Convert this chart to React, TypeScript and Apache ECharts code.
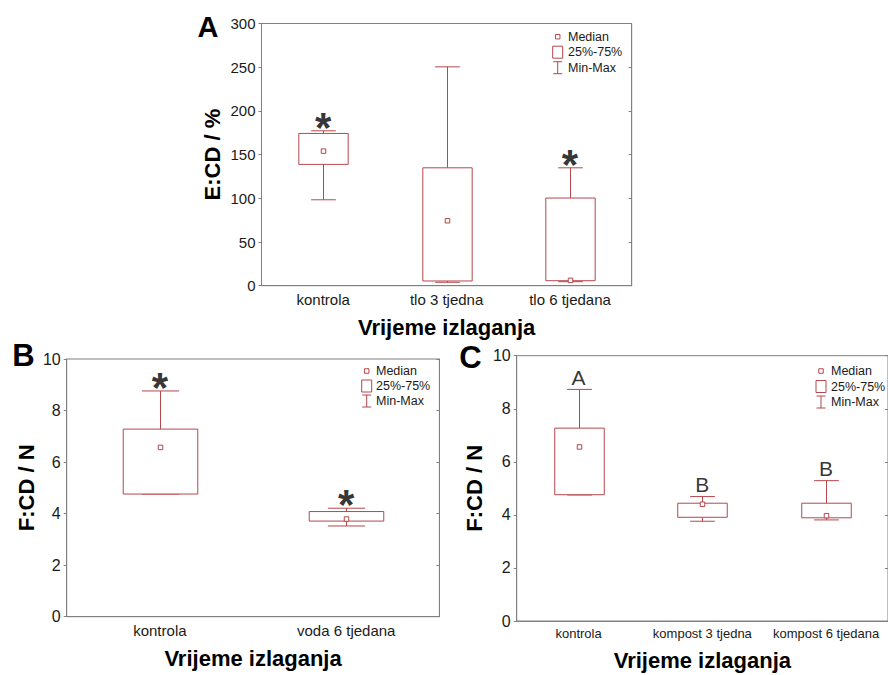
import React, { useEffect, useRef } from "react";
import * as echarts from "echarts";

// ---------- Panel A ----------
const catsA = ["kontrola", "tlo 3 tjedna", "tlo 6 tjedana"];
const minA = [98.3, 3.9, 4.6];
const q1A = [138.8, 5.4, 5.7];
const medA = [154, 74.3, 6.1];
const q3A = [174.2, 134.9, 100.3];
const maxA = [177.2, 250.4, 134.9];
const marksA = ["*", "", "*"];
const yTicksA = [0, 50, 100, 150, 200, 250, 300];

// ---------- Panel B ----------
const catsB = ["kontrola", "voda 6 tjedana"];
const minB = [4.76, 3.52];
const q1B = [4.76, 3.71];
const medB = [6.57, 3.79];
const q3B = [7.28, 4.08];
const maxB = [8.76, 4.21];
const marksB = ["*", "*"];
const yTicksBC = [0, 2, 4, 6, 8, 10];

// ---------- Panel C ----------
const catsC = ["kontrola", "kompost 3 tjedna", "kompost 6 tjedana"];
const minC = [4.75, 3.76, 3.81];
const q1C = [4.76, 3.91, 3.89];
const medC = [6.56, 4.4, 3.97];
const q3C = [7.27, 4.44, 4.44];
const maxC = [8.73, 4.69, 5.29];
const lettersC = ["A", "B", "B"];

const legendLabels = ["Median", "25%-75%", "Min-Max"];
const xTitle = "Vrijeme izlaganja";

const RED = "#b5474d";
const FRAME = "#808080";
const FONT = "'Liberation Sans', Arial, sans-serif";
const TXT = "#1a1a1a";

function renderBox(_params: any, api: any) {
  const i = api.value(0);
  const lo = api.coord([i, api.value(1)]);
  const q1 = api.coord([i, api.value(2)]);
  const med = api.coord([i, api.value(3)]);
  const q3 = api.coord([i, api.value(4)]);
  const hi = api.coord([i, api.value(5)]);
  const band = api.size([1, 0])[0];
  const w = band * 0.4;
  const cx = Math.round(lo[0]) + 0.5;
  const cap = w / 4;
  const ls = { stroke: RED, lineWidth: 1, fill: "none" };
  const s = 4.5;
  return {
    type: "group",
    children: [
      { type: "line", shape: { x1: cx, y1: hi[1], x2: cx, y2: q3[1] }, style: ls },
      { type: "line", shape: { x1: cx - cap, y1: hi[1], x2: cx + cap, y2: hi[1] }, style: ls },
      { type: "line", shape: { x1: cx, y1: lo[1], x2: cx, y2: q1[1] }, style: ls },
      { type: "line", shape: { x1: cx - cap, y1: lo[1], x2: cx + cap, y2: lo[1] }, style: ls },
      {
        type: "rect",
        shape: { x: cx - w / 2, y: q3[1], width: w, height: q1[1] - q3[1] },
        style: { stroke: RED, lineWidth: 1, fill: "#ffffff" },
      },
      {
        type: "rect",
        shape: { x: cx - s / 2, y: med[1] - s / 2, width: s, height: s },
        style: { stroke: RED, lineWidth: 1, fill: "#ffffff" },
      },
    ],
  };
}

function boxData(mins: number[], q1s: number[], meds: number[], q3s: number[], maxs: number[]) {
  return mins.map((m, i) => [i, m, q1s[i], meds[i], q3s[i], maxs[i]]);
}

function markData(maxs: number[], marks: string[]) {
  return marks
    .map((t, i) => ({ name: t, value: [i, maxs[i]] }))
    .filter((d) => d.name !== "");
}

function legend(sx: number, sy: number, tx: number, dy: number) {
  const ls = { stroke: RED, lineWidth: 1, fill: "none" };
  const children: any[] = [
    { type: "rect", shape: { x: sx - 2.25, y: sy - 2.25, width: 4.5, height: 4.5 }, style: { stroke: RED, lineWidth: 1, fill: "#fff" } },
    { type: "rect", shape: { x: sx - 5, y: sy + dy - 6, width: 10, height: 12 }, style: { stroke: RED, lineWidth: 1, fill: "#fff" } },
    { type: "line", shape: { x1: sx, y1: sy + 2 * dy - 6, x2: sx, y2: sy + 2 * dy + 6 }, style: ls },
    { type: "line", shape: { x1: sx - 4.5, y1: sy + 2 * dy - 6, x2: sx + 4.5, y2: sy + 2 * dy - 6 }, style: ls },
    { type: "line", shape: { x1: sx - 4.5, y1: sy + 2 * dy + 6, x2: sx + 4.5, y2: sy + 2 * dy + 6 }, style: ls },
  ];
  legendLabels.forEach((t, k) => {
    children.push({
      type: "text",
      x: tx,
      y: sy + k * dy,
      style: { text: t, fill: TXT, font: `12.5px ${FONT}`, textAlign: "left", textVerticalAlign: "middle" },
    });
  });
  return { type: "group", children };
}

function panelLetter(t: string, x: number, y: number, size: number) {
  return {
    type: "text",
    x,
    y,
    style: { text: t, fill: "#000", font: `bold ${size}px ${FONT}`, textAlign: "center", textVerticalAlign: "middle" },
  };
}

function axesFor(
  g: number,
  cats: string[],
  yMin: number,
  yMax: number,
  yInt: number,
  xFont: number,
  yFont: number,
  yName: string,
  xGap: number,
  yGap: number
) {
  const xs = [
    {
      type: "category",
      gridIndex: g,
      data: cats,
      position: "bottom",
      axisLine: { lineStyle: { color: FRAME } },
      axisTick: { alignWithLabel: true, length: 3, lineStyle: { color: FRAME } },
      axisLabel: { fontSize: xFont, color: TXT, fontFamily: FONT, margin: 6, interval: 0 },
      name: xTitle,
      nameLocation: "middle",
      nameGap: xGap,
      nameTextStyle: { fontSize: 22, fontWeight: "bold", color: "#000", fontFamily: FONT, verticalAlign: "middle", align: "center" },
    },
    {
      type: "category",
      gridIndex: g,
      data: cats,
      position: "top",
      axisLine: { lineStyle: { color: FRAME } },
      axisTick: { alignWithLabel: true, inside: true, length: 3, lineStyle: { color: FRAME } },
      axisLabel: { show: false },
    },
  ];
  const ys = [
    {
      type: "value",
      gridIndex: g,
      min: yMin,
      max: yMax,
      interval: yInt,
      position: "left",
      axisLine: { show: true, lineStyle: { color: FRAME } },
      axisTick: { show: true, length: 3, lineStyle: { color: FRAME } },
      axisLabel: { fontSize: yFont, color: TXT, fontFamily: FONT, margin: 6 },
      splitLine: { show: false },
      name: yName,
      nameLocation: "middle",
      nameGap: yGap,
      nameRotate: 90,
      nameTextStyle: { fontSize: 22, fontWeight: "bold", color: "#000", fontFamily: FONT, verticalAlign: "middle", align: "center" },
    },
    {
      type: "value",
      gridIndex: g,
      min: yMin,
      max: yMax,
      interval: yInt,
      position: "right",
      axisLine: { show: true, lineStyle: { color: FRAME } },
      axisTick: { show: true, inside: true, length: 3, lineStyle: { color: FRAME } },
      axisLabel: { show: false },
      splitLine: { show: false },
    },
  ];
  return { xs, ys };
}

export default function App() {
  const ref = useRef<HTMLDivElement>(null);
  useEffect(() => {
    if (!ref.current) return;
    const chart = echarts.init(ref.current, null, { renderer: "svg" });
    const a = axesFor(0, catsA, yTicksA[0], yTicksA[yTicksA.length - 1], yTicksA[1] - yTicksA[0], 15, 15, "E:CD / %", 41.5, 49.3);
    const b = axesFor(1, catsB, yTicksBC[0], yTicksBC[yTicksBC.length - 1], yTicksBC[1] - yTicksBC[0], 15, 16, "F:CD / N", 41.5, 40.7);
    const c = axesFor(2, catsC, yTicksBC[0], yTicksBC[yTicksBC.length - 1], yTicksBC[1] - yTicksBC[0], 13, 16, "F:CD / N", 39, 42.4);

    const starLabel = {
      show: true,
      position: "top",
      distance: 0,
      formatter: "{b}",
      fontSize: 42,
      fontWeight: "bold",
      color: "#000000",
      fontFamily: FONT,
      offset: [0, 18],
    };
    const letterLabel = {
      show: true,
      position: "top",
      distance: 0,
      formatter: "{b}",
      fontSize: 21,
      color: "#000000",
      fontFamily: FONT,
      offset: [0, -1],
    };

    const boxSeries = (xi: number, data: any[]) => ({
      type: "custom",
      xAxisIndex: xi,
      yAxisIndex: xi,
      renderItem: renderBox,
      data,
      encode: { x: 0, y: [1, 2, 3, 4, 5] },
      z: 2,
    });
    const markSeries = (xi: number, data: any[], label: any) => ({
      type: "scatter",
      xAxisIndex: xi,
      yAxisIndex: xi,
      data,
      symbolSize: 1,
      itemStyle: { color: "rgba(0,0,0,0)" },
      label,
      z: 3,
    });

    chart.setOption({
      animation: false,
      backgroundColor: "#ffffff",
      textStyle: { fontFamily: FONT },
      grid: [
        { left: 261.5, top: 23.5, width: 370.2, height: 262.2, show: true, borderColor: FRAME, borderWidth: 1, backgroundColor: "transparent" },
        { left: 66.7, top: 359, width: 372.7, height: 257.7, show: true, borderColor: FRAME, borderWidth: 1, backgroundColor: "transparent" },
        { left: 516.7, top: 355.7, width: 380, height: 265.3, show: true, borderColor: FRAME, borderWidth: 1, backgroundColor: "transparent" },
      ],
      xAxis: [...a.xs, ...b.xs, ...c.xs],
      yAxis: [...a.ys, ...b.ys, ...c.ys],
      series: [
        boxSeries(0, boxData(minA, q1A, medA, q3A, maxA)),
        markSeries(0, markData(maxA, marksA), starLabel),
        boxSeries(2, boxData(minB, q1B, medB, q3B, maxB)),
        markSeries(2, markData(maxB, marksB), starLabel),
        boxSeries(4, boxData(minC, q1C, medC, q3C, maxC)),
        markSeries(4, markData(maxC, lettersC), letterLabel),
      ],
      graphic: [
        panelLetter("A", 208, 27, 29),
        panelLetter("B", 23.5, 355, 31),
        panelLetter("C", 470.5, 357, 31),
        legend(557.7, 36.7, 568, 15.5),
        legend(366.7, 371, 376, 15),
        legend(821, 371, 831, 15.5),
      ],
    });
    return () => chart.dispose();
  }, []);
  return <div ref={ref} style={{ position: "absolute", left: 0, top: 0, width: 888, height: 675 }} />;
}
